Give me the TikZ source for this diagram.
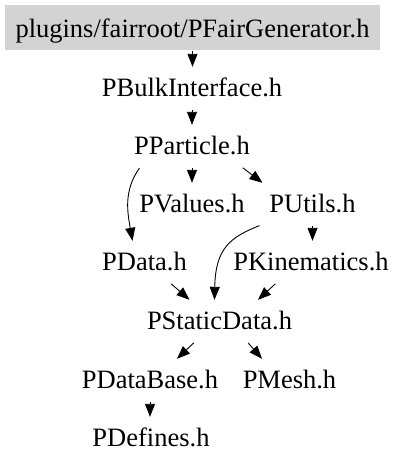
\documentclass[tikz,border=0pt]{standalone}
\usepackage{fontspec}
\setmainfont{Liberation Serif}
\usetikzlibrary{arrows.meta,calc}
\definecolor{hdrgray}{RGB}{211,211,211}
\begin{document}
\begin{tikzpicture}[x=1pt,y=-1pt,
  hdr/.style={font=\fontsize{26.5}{30}\selectfont, fill=hdrgray, anchor=base,
    text height=26pt, text depth=7pt, inner ysep=6pt, minimum width=375pt},
  file/.style={font=\fontsize{26.5}{30}\selectfont, anchor=base,
    text height=23pt, text depth=7pt, inner ysep=6pt, inner xsep=2pt},
  inc/.style={line width=0.9pt, shorten <=1pt, -{Triangle[length=13pt,width=10pt]}}]
\useasboundingbox (0,0) rectangle (407,469);
\fill[white] (0,0) rectangle (407,469);

% files, placed on their baselines
\node[hdr]  (FG)  at (192.5,37)  {plugins/fairroot/PFairGenerator.h};
\node[file] (BI)  at (192,96)    {PBulkInterface.h};
\node[file] (PP)  at (192,154)   {PParticle.h};
\node[file] (PV)  at (192,212)   {PValues.h};
\node[file] (PU)  at (312.5,212) {PUtils.h};
\node[file] (PD)  at (144.5,270) {PData.h};
\node[file] (PK)  at (311,270)   {PKinematics.h};
\node[file] (PSD) at (219.5,329) {PStaticData.h};
\node[file] (PDB) at (150,388)   {PDataBase.h};
\node[file] (PM)  at (289.5,388) {PMesh.h};
\node[file] (PDF) at (151,446)   {PDefines.h};

% include edges
\draw[inc] (FG.south) -- (FG.south |- BI.north);
\draw[inc] (BI.south) -- (PP.north);
\draw[inc] ([xshift=-52pt]PP.south) to[out=235,in=100] ([xshift=-12pt]PD.north);
\draw[inc] (PP.south) -- (PV.north);
\draw[inc] ([xshift=50pt]PP.south) -- ([xshift=-50pt]PU.north);
\draw[inc] ([xshift=-52pt]PU.south)
  .. controls ($([xshift=-52pt]PU.south)+(-30,12)$)
     and ($([xshift=-5pt]PSD.north)+(1,-52)$) .. ([xshift=-5pt]PSD.north);
\draw[inc] (PU.south) -- (PU.south |- PK.north);
\draw[inc] ([xshift=26pt]PD.south) -- ([xshift=-30pt]PSD.north);
\draw[inc] ([xshift=-35pt]PK.south) -- ([xshift=38.5pt]PSD.north);
\draw[inc] ([xshift=-25pt]PSD.south) -- ([xshift=27pt]PDB.north);
\draw[inc] ([xshift=28pt]PSD.south) -- ([xshift=-27.5pt]PM.north);
\draw[inc] (PDB.south) -- (PDB.south |- PDF.north);
\end{tikzpicture}
\end{document}
